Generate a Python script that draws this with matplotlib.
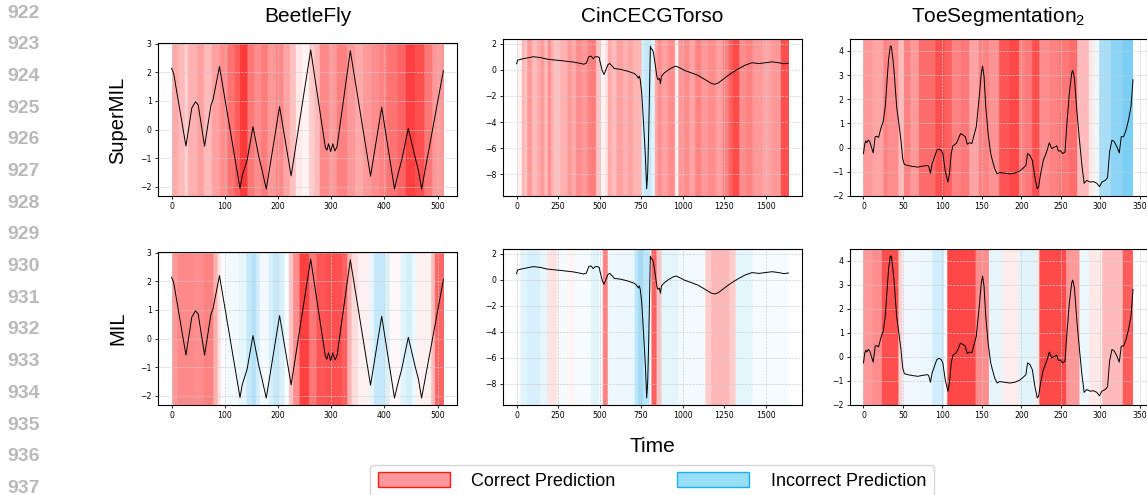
import numpy as np
import matplotlib
matplotlib.use('Agg')
import matplotlib.pyplot as plt
from matplotlib.colors import LinearSegmentedColormap
from matplotlib.patches import Patch
from matplotlib.ticker import MultipleLocator

plt.rcParams['font.family'] = 'DejaVu Sans'
plt.rcParams['mathtext.fontset'] = 'custom'
plt.rcParams['mathtext.rm'] = 'Liberation Sans'
plt.rcParams['mathtext.it'] = 'Liberation Sans:italic'

datasets = ['BeetleFly', 'CinCECGTorso', 'ToeSegmentation$_2$']
methods = ['SuperMIL', 'MIL']
lengths = [512, 1639, 343]
xtick_steps = [100, 250, 50]
ytick_steps = [1, 2, 1]
line_numbers = list(range(922, 938))
legend_labels = ['Correct Prediction', 'Incorrect Prediction']

# ---- time series (time index, value) ----
beetle_pts = [(0, 2.14), (4, 1.95), (27, -0.58), (38, 0.75), (45, 0.97), (50, 0.86),
              (62, -0.58), (74, 0.85), (78, 1.05), (90, 2.2), (128.6, -2.06), (133, -1.6),
              (142, -1.07), (153, 0.1), (164, -0.95), (170, -1.42), (178, -2.08), (203, 0.8),
              (224.7, -1.62), (261.5, 2.78), (289, -0.62), (292, -0.72), (295, -0.5),
              (299, -0.77), (303, -0.5), (307, -0.75), (311, -0.6), (336, 2.75), (374, -1.63),
              (395, 0.78), (419, -2.08), (426, -1.53), (432.6, -1.07), (445, 0.04),
              (457.5, -0.95), (464, -1.42), (470, -2.08), (511, 2.06)]

cinc_pts = [(0, 0.46), (6, 0.74), (30, 0.82), (61, 0.9), (101, 1.0), (142, 0.94), (182, 0.82),
            (222, 0.76), (263, 0.71), (304, 0.65), (344, 0.59), (380, 0.5), (405, 0.43),
            (420, 0.5), (435, 1.0), (449, 1.05), (462, 0.84), (472, 0.99), (486, 1.0),
            (498, 0.95), (502, 0.66), (517, -0.1), (527, -0.36), (537, -0.03), (551, 0.41),
            (561, 0.48), (577, 0.28), (588, 0.1), (628, 0.03), (668, -0.1), (709, -0.28),
            (723, -0.43), (733, -0.64), (739, -0.48), (745, -0.74), (754, -1.76), (766, -4.3),
            (776, -6.6), (784, -9.1), (790, -7.9), (796, -4.8), (802, -1.0), (806, 1.81),
            (812, 1.6), (818, 1.55), (825, 1.3), (837, 0.28), (845, -0.48), (851, -0.74),
            (861, -0.66), (867, -1.05), (873, -0.48), (891, -0.23), (912, -0.03), (942, 0.2),
            (962, 0.28), (983, 0.15), (1013, -0.05), (1053, -0.23), (1094, -0.43),
            (1135, -0.74), (1175, -1.05), (1195, -1.1), (1216, -1.0), (1256, -0.61),
            (1297, -0.23), (1337, 0.08), (1378, 0.36), (1418, 0.54), (1459, 0.48),
            (1499, 0.54), (1540, 0.61), (1580, 0.54), (1611, 0.46), (1638, 0.51)]

toe_pts = [(0, -0.25), (1.7, 0.17), (3, 0.28), (4.2, 0.2), (6, 0.31), (8, 0.24), (10.6, -0.04),
           (12.3, -0.22), (14.9, 0.45), (16.6, 0.47), (19.1, 0.42), (22, 0.79), (25, 1.07),
           (27.6, 1.7), (29.7, 2.67), (31.8, 3.65), (34, 4.2), (35.2, 4.2), (36.9, 3.79),
           (39, 3.09), (42, 1.7), (45.4, 0.86), (47.5, 0.31), (49.7, -0.46), (51.8, -0.7),
           (56, -0.74), (62.4, -0.78), (68.8, -0.81), (75, -0.77), (81.5, -0.74), (82.8, -0.8),
           (84.9, -1.06), (87, -0.67), (90, -0.39), (93, -0.11), (95.5, -0.06), (98.5, -0.11),
           (100.6, -0.25), (103.6, -0.95), (107, -1.43), (109, -1.09), (111.2, -0.25),
           (113.3, 0.07), (117.6, 0.17), (119.7, 0.31), (123, 0.58), (126, 0.52), (129, 0.45),
           (131.6, 0.14), (134.5, 0.2), (137.5, 0.17), (139.6, 0.45), (143, 0.86),
           (146.4, 1.98), (149.4, 3.09), (151, 3.37), (152.8, 2.95), (155, 1.7), (158, 0.58),
           (161.3, -0.25), (163.4, -0.53), (166.4, -0.88), (169.4, -1.09), (172.7, -1.03),
           (179, -1.06), (185.5, -1.09), (191.8, -1.06), (198, -0.97), (202.5, -0.85),
           (205.9, -0.74), (208, -0.25), (211, -0.32), (214, -0.53), (217.3, -1.23),
           (220.3, -1.71), (222, -1.64), (224.5, -1.09), (228, -0.53), (232.2, -0.18),
           (235.6, 0.2), (238.5, -0.04), (242.8, 0.03), (245, 0.07), (247, -0.14),
           (250, -0.14), (252.5, -0.25), (255.5, -0.18), (257.6, 0.86), (261, 2.26),
           (264, 3.09), (265.3, 3.2), (267.4, 2.88), (270.4, 1.56), (273.8, 0.31),
           (276.7, -0.67), (279.7, -1.48), (283, -1.36), (287.4, -1.43), (291.6, -1.41),
           (295.8, -1.48), (299.2, -1.62), (302.2, -1.43), (306.5, -1.36), (309.4, -1.25),
           (312, -0.18), (315, 0.31), (318, 0.24), (321.3, 0.03), (324.3, -0.22),
           (326.8, 0.45), (329.8, 0.45), (332.8, 0.72), (336, 1.14), (339.1, 1.7),
           (341.7, 2.81)]

# ---- attribution strips: segment edges and signed strength (+ correct, - incorrect) ----
beetle_super_edges = [0, 12, 24, 30, 48, 60, 75, 90, 105, 118, 128, 142, 155, 168, 180, 195,
                      210, 222, 233, 245, 258, 268, 278, 295, 310, 330, 345, 360, 375, 390,
                      405, 425, 440, 458, 475, 490, 512]
beetle_super_vals = [0.38, 0.3, 0.2, 0.35, 0.42, 0.3, 0.42, 0.5, 0.62, 0.72, 0.88, 0.6, 0.5,
                     0.58, 0.45, 0.52, 0.4, 0.28, 0.1, 0.05, 0.22, 0.3, 0.52, 0.45, 0.55,
                     0.45, 0.38, 0.45, 0.5, 0.55, 0.62, 0.68, 0.85, 0.78, 0.6, 0.45]

beetle_mil_edges = [0, 10, 40, 60, 78, 86, 92, 102, 125, 140, 150, 158, 165, 182, 190, 200,
                    212, 220, 228, 240, 258, 272, 290, 320, 330, 338, 350, 372, 380, 400,
                    410, 430, 440, 452, 460, 488, 495, 512]
beetle_mil_vals = [0.45, 0.52, 0.5, 0.55, 0.35, 0.12, 0.0, -0.07, -0.12, -0.3, -0.4, -0.25,
                   -0.06, -0.2, -0.3, -0.2, -0.03, 0.25, 0.5, 0.85, 0.6, 0.75, 0.78, 0.7,
                   0.35, 0.15, 0.06, -0.12, -0.3, -0.2, 0.03, -0.15, -0.22, -0.1, 0.06,
                   0.3, 0.68]

cinc_super_edges = [0, 30, 45, 61, 91, 120, 142, 165, 185, 205, 223, 260, 304, 330, 355, 390,
                    425, 450, 476, 506, 530, 547, 570, 600, 640, 669, 700, 750, 765, 810,
                    831, 850, 871, 910, 952, 972, 1000, 1040, 1074, 1110, 1150, 1200, 1240,
                    1276, 1300, 1340, 1380, 1420, 1479, 1530, 1590, 1639]
cinc_super_vals = [0.06, 0.35, 0.25, 0.45, 0.3, 0.38, 0.45, 0.3, 0.5, 0.35, 0.28, 0.35, 0.45,
                   0.38, 0.5, 0.45, 0.55, 0.58, 0.25, 0.05, 0.12, 0.38, 0.3, 0.42, 0.35,
                   0.4, 0.33, -0.2, -0.3, -0.15, 0.4, 0.5, 0.42, 0.5, 0.05, 0.45, 0.5,
                   0.4, 0.55, 0.45, 0.5, 0.42, 0.55, 0.7, 0.8, 0.5, 0.55, 0.45, 0.4, 0.45,
                   0.78]

cinc_mil_edges = [0, 20, 60, 140, 182, 243, 300, 350, 446, 496, 517, 547, 600, 709, 730, 760,
                  800, 810, 841, 871, 972, 1135, 1170, 1280, 1317, 1418, 1639]
cinc_mil_vals = [0.0, -0.15, -0.2, -0.12, 0.12, -0.04, 0.04, -0.05, -0.15, -0.03, 0.55,
                 -0.08, -0.1, -0.35, -0.5, -0.35, 0.0, 0.7, 0.25, -0.14, -0.06, 0.22, 0.32,
                 0.22, -0.14, -0.05]

toe_super_edges = [0, 12, 26, 31, 45, 52, 60, 71, 92, 104, 113, 124, 135, 147, 160, 173, 186,
                   198, 206, 215, 224, 237, 249, 262, 272, 287, 294, 300, 315, 330, 343]
toe_super_vals = [0.45, 0.4, 0.55, 0.5, 0.3, 0.55, 0.45, 0.65, 0.78, 0.7, 0.55, 0.6, 0.4,
                  0.55, 0.48, 0.75, 0.82, 0.55, 0.6, 0.78, 0.5, 0.55, 0.6, 0.65, 0.3, 0.1,
                  -0.1, -0.45, -0.6, -0.68]

toe_mil_edges = [0, 12, 24, 45, 50, 70, 88, 103, 107, 143, 160, 177, 198, 219, 224, 258, 275,
                 287, 304, 330, 343]
toe_mil_vals = [0.45, 0.5, 0.78, 0.2, -0.08, -0.1, -0.25, 0.0, 0.82, 0.5, -0.12, 0.08, -0.15,
                0.1, 0.8, 0.45, -0.1, 0.1, 0.3, 0.72]

series = [beetle_pts, cinc_pts, toe_pts]
strips = [[(beetle_super_edges, beetle_super_vals), (cinc_super_edges, cinc_super_vals),
           (toe_super_edges, toe_super_vals)],
          [(beetle_mil_edges, beetle_mil_vals), (cinc_mil_edges, cinc_mil_vals),
           (toe_mil_edges, toe_mil_vals)]]

# ---- figure ----
W, H = 1147, 495
fig = plt.figure(figsize=(W / 100, H / 100), dpi=100)


def rect(l, r, t, b):
    return [l / W, 1 - b / H, (r - l) / W, (b - t) / H]


rects = [[rect(158, 457, 43, 196), rect(503, 802, 39, 196), rect(850, 1146.5, 39, 196)],
         [rect(158, 457, 252, 405), rect(503, 802, 249, 405), rect(850, 1146.5, 249, 405)]]

cmap = LinearSegmentedColormap.from_list(
    'att', [(0.25, 0.72, 0.94), (1, 1, 1), (1.0, 0.12, 0.12)])

for r in range(2):
    for c in range(3):
        ax = fig.add_axes(rects[r][c])
        t, v = zip(*series[c])
        ax.plot(t, v, color='k', lw=0.7, zorder=3)
        ax.margins(0.05)
        ax.autoscale_view()
        xl, yl = ax.get_xlim(), ax.get_ylim()
        edges, vals = strips[r][c]
        arr = np.repeat(np.array(vals, float), np.diff(edges))
        ax.imshow(arr[None, :], extent=(0, lengths[c] - 1, yl[0], yl[1]), aspect='auto',
                  cmap=cmap, vmin=-1, vmax=1, interpolation='bilinear', zorder=0)
        ax.set_xlim(xl)
        ax.set_ylim(yl)
        ax.xaxis.set_major_locator(MultipleLocator(xtick_steps[c]))
        ax.yaxis.set_major_locator(MultipleLocator(ytick_steps[c]))
        ax.grid(True, ls='--', lw=0.45, color='0.8')
        ax.tick_params(labelsize=5.6, length=2.5, width=0.6, pad=2)
        for s in ax.spines.values():
            s.set_linewidth(0.8)
        if r == 0:
            x0, w0 = rects[r][c][0], rects[r][c][2]
            fig.text(x0 + w0 / 2, 1 - 17 / H, datasets[c], ha='center', va='center',
                     fontsize=15, family='Liberation Sans')

fig.text(118 / W, 1 - 120 / H, methods[0], rotation=90, ha='center', va='center',
         fontsize=14.5, family='Liberation Sans')
fig.text(118 / W, 1 - 328 / H, methods[1], rotation=90, ha='center', va='center',
         fontsize=14.5, family='Liberation Sans')
fig.text(652 / W, 1 - 446 / H, 'Time', ha='center', va='center', fontsize=15,
         family='Liberation Sans')

for i, n in enumerate(line_numbers):
    fig.text(7 / W, 1 - (13 + i * 31.7) / H, str(n), ha='left', va='center', fontsize=14,
             fontweight='bold', color='#b9b9b9', family='Liberation Sans')

handles = [Patch(facecolor=(1, 0.6, 0.6), edgecolor=(1, 0.1, 0.1), lw=1),
           Patch(facecolor=(0.6, 0.87, 0.97), edgecolor=(0.1, 0.7, 0.93), lw=1)]
fig.legend(handles, legend_labels, loc='upper center', bbox_to_anchor=(652 / W, 1 - 465 / H),
           ncol=2, handlelength=4, handleheight=0.85, handletextpad=1.2, columnspacing=3.4,
           borderaxespad=0, prop={'family': 'Liberation Sans', 'size': 13})

fig.savefig('out.png', dpi=100)
